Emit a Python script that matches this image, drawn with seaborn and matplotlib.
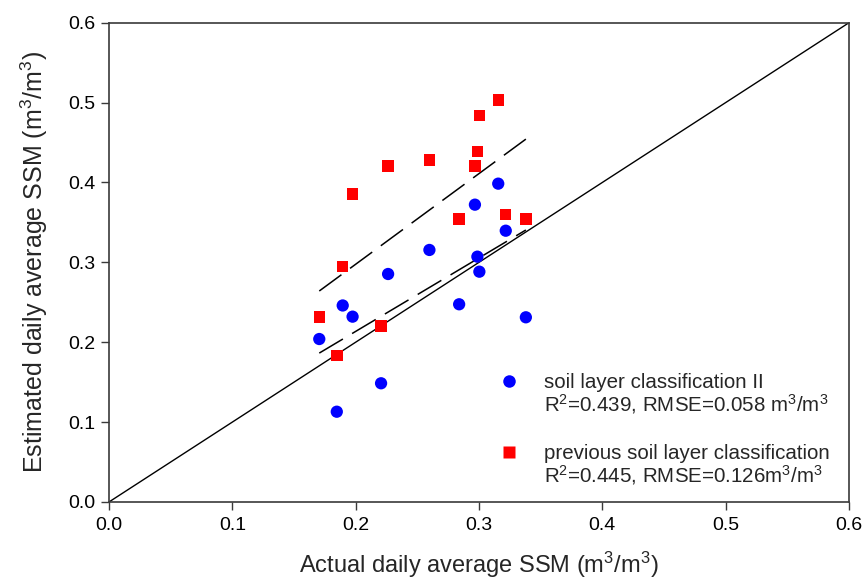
import matplotlib
matplotlib.use("Agg")
import matplotlib.pyplot as plt
import numpy as np
import pandas as pd
import seaborn as sns
from matplotlib.lines import Line2D

# Actual daily average surface soil moisture at the sites (m3/m3)
actual_ssm = [0.1705, 0.1847, 0.1895, 0.1975, 0.2206, 0.2263, 0.2598,
              0.2839, 0.2967, 0.2987, 0.3003, 0.3156, 0.3217, 0.3380]
# Estimated SSM with soil layer classification II
est_class2 = [0.204, 0.113, 0.246, 0.232, 0.1486, 0.2854, 0.3155,
              0.2475, 0.3722, 0.3071, 0.2883, 0.3985, 0.3396, 0.2312]
# Estimated SSM with the previous soil layer classification
est_prev = [0.2316, 0.1832, 0.2946, 0.3856, 0.2203, 0.4206, 0.4281,
            0.3543, 0.4206, 0.4385, 0.4836, 0.5033, 0.3602, 0.3543]

tick_values = [0.0, 0.1, 0.2, 0.3, 0.4, 0.5, 0.6]
tick_labels = ["0.0", "0.1", "0.2", "0.3", "0.4", "0.5", "0.6"]

label_class2 = "soil layer classification II"
stats_class2 = r"R$^{\mathrm{2}}$=0.439, RMSE=0.058 m$^{\mathrm{3}}$/m$^{\mathrm{3}}$"
label_prev = "previous soil layer classification"
stats_prev = r"R$^{\mathrm{2}}$=0.445, RMSE=0.126m$^{\mathrm{3}}$/m$^{\mathrm{3}}$"

df = pd.DataFrame({"actual": actual_ssm, "class2": est_class2, "prev": est_prev})

sns.set_theme(style="ticks")
plt.rcParams["font.family"] = ["Liberation Sans", "DejaVu Sans"]
plt.rcParams["mathtext.fontset"] = "custom"
plt.rcParams["mathtext.rm"] = "Liberation Sans"
plt.rcParams["mathtext.it"] = "Liberation Sans:italic"
plt.rcParams["mathtext.bf"] = "Liberation Sans:bold"

blue = "#0000ff"
red = "#ff0000"
axis_color = "#3a3a3a"
legend_size = 14.8

fig, ax = plt.subplots(figsize=(8.65, 5.82), dpi=100)
fig.subplots_adjust(left=0.126, right=0.9815, bottom=0.1375, top=0.961)

# 1:1 reference line
ax.axline((0, 0), slope=1, color="black", lw=1.0, zorder=1)

# Linear fits for each estimate
fit_kws = dict(color="black", lw=1.1, dashes=(18, 7))
sns.regplot(data=df, x="actual", y="prev", scatter=False, ci=None,
            line_kws=fit_kws, ax=ax)
sns.regplot(data=df, x="actual", y="class2", scatter=False, ci=None,
            line_kws=fit_kws, ax=ax)

# Observations
sns.scatterplot(data=df, x="actual", y="class2", marker="o", s=78,
                color=blue, edgecolor="none", ax=ax, zorder=3)
sns.scatterplot(data=df, x="actual", y="prev", marker="s", s=68,
                color=red, edgecolor="none", ax=ax, zorder=3)

ax.set_xlim(0, 0.6)
ax.set_ylim(0, 0.6)
ax.set_xticks(tick_values)
ax.set_xticklabels(tick_labels)
ax.set_yticks(tick_values)
ax.set_yticklabels(tick_labels)

for side in ["left", "right", "top", "bottom"]:
    ax.spines[side].set_visible(True)
    ax.spines[side].set_color(axis_color)
    ax.spines[side].set_linewidth(1.2)
ax.tick_params(axis="both", direction="out", length=6, width=1.0,
               color=axis_color, labelsize=14, labelcolor="black")
ax.tick_params(axis="x", pad=5)
ax.tick_params(axis="y", pad=4)

ax.set_xlabel(r"Actual daily average SSM (m$^{\mathrm{3}}$/m$^{\mathrm{3}}$)",
              fontsize=17, labelpad=11)
ax.set_ylabel(r"Estimated daily average SSM (m$^{\mathrm{3}}$/m$^{\mathrm{3}}$)",
              fontsize=18, labelpad=13)

# Legend: one row per series, the fit statistics set just under each label
handles = [
    Line2D([], [], marker="o", linestyle="none", markersize=9,
           markerfacecolor=blue, markeredgecolor="none"),
    Line2D([], [], marker="s", linestyle="none", markersize=8.3,
           markerfacecolor=red, markeredgecolor="none"),
]
leg = ax.legend(handles, [label_class2, label_prev], loc="upper left",
                bbox_to_anchor=(0.513, 0.290), frameon=False,
                fontsize=legend_size, labelspacing=2.54, handlelength=1.0,
                handletextpad=1.2, borderpad=0)
for txt, stats in zip(leg.get_texts(), [stats_class2, stats_prev]):
    ax.annotate(stats, xy=(0, 0), xycoords=txt, xytext=(0, 0),
                textcoords="offset points", ha="left", va="top",
                fontsize=legend_size, zorder=6, annotation_clip=False)

fig.savefig("out.png", dpi=100)
